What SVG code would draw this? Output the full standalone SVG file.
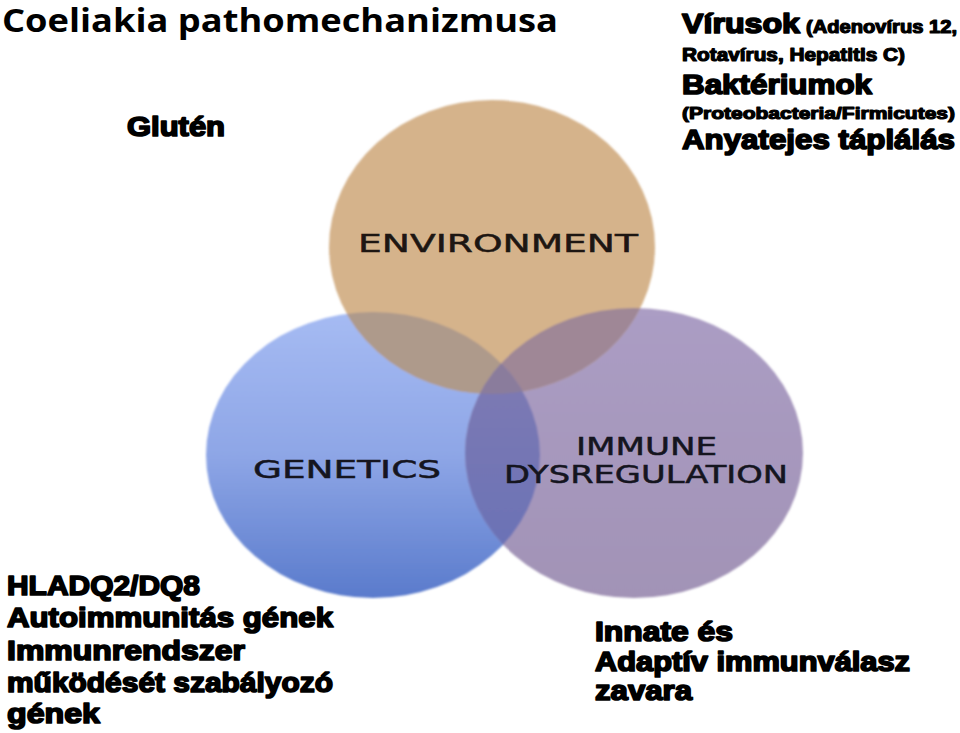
<svg xmlns="http://www.w3.org/2000/svg" width="960" height="733" viewBox="0 0 960 733">
<style>
.blk{font-family:"Liberation Sans",Arial,sans-serif;font-weight:bold;fill:#000;stroke:#000;stroke-width:1.7;stroke-linejoin:round}
.sm{stroke-width:1.2}
.lbl{font-family:"DejaVu Sans","Liberation Sans",sans-serif;font-weight:normal;font-size:25px;fill:#15151f;stroke:#15151f;stroke-width:0.5}
.ttl{font-family:"Open Sans","Liberation Sans",sans-serif;font-weight:700;font-size:32px;fill:#000}
</style>
<defs>
<linearGradient id="gGen" x1="0" y1="312" x2="0" y2="598" gradientUnits="userSpaceOnUse">
<stop offset="0" stop-color="#a6bbf3"/><stop offset="0.5" stop-color="#8ea6e6"/><stop offset="1" stop-color="#5a7bcc"/>
</linearGradient>
<linearGradient id="gImm" x1="0" y1="308" x2="0" y2="598" gradientUnits="userSpaceOnUse">
<stop offset="0" stop-color="#ab9dc4"/><stop offset="1" stop-color="#a293b6"/>
</linearGradient>
<linearGradient id="gGI" x1="0" y1="360" x2="0" y2="545" gradientUnits="userSpaceOnUse">
<stop offset="0" stop-color="#7f7bb3"/><stop offset="1" stop-color="#6b72b6"/>
</linearGradient>
<clipPath id="cGen"><ellipse cx="373" cy="455" rx="167" ry="143"/></clipPath>
<clipPath id="cImm"><ellipse cx="634" cy="453" rx="169" ry="145"/></clipPath>
<filter id="soft" x="-5%" y="-5%" width="110%" height="110%"><feGaussianBlur stdDeviation="1.2"/></filter>
</defs>

<g id="title"><text class="ttl" x="2" y="32" textLength="556" lengthAdjust="spacingAndGlyphs">Coeliakia pathomechanizmusa</text></g>

<g id="venn" filter="url(#soft)">
<g id="genetics-circle"><ellipse cx="373" cy="455" rx="167" ry="143" fill="url(#gGen)"/></g>
<g id="immune-circle"><ellipse cx="634" cy="453" rx="169" ry="145" fill="url(#gImm)"/></g>
<g id="environment-circle"><ellipse cx="492" cy="247" rx="163" ry="147" fill="#d5b38b"/></g>
<g clip-path="url(#cGen)"><ellipse cx="492" cy="247" rx="163" ry="147" fill="#ae9a8b"/></g>
<g clip-path="url(#cImm)"><ellipse cx="492" cy="247" rx="163" ry="147" fill="#9f8796"/></g>
<g clip-path="url(#cImm)"><ellipse cx="373" cy="455" rx="167" ry="143" fill="url(#gGI)"/></g>
<g clip-path="url(#cImm)"><g clip-path="url(#cGen)"><ellipse cx="492" cy="247" rx="163" ry="147" fill="#8a7c9c"/></g></g>
</g>

<g id="environment">
<text class="lbl" x="358" y="252" textLength="280" lengthAdjust="spacingAndGlyphs" style="fill:#1d1612;stroke:#1d1612">ENVIRONMENT</text>
</g>
<g id="genetics">
<text class="lbl" x="253" y="478" textLength="188" lengthAdjust="spacingAndGlyphs">GENETICS</text>
</g>
<g id="immune">
<text class="lbl" x="576" y="455" textLength="141" lengthAdjust="spacingAndGlyphs">IMMUNE</text>
<text class="lbl" x="504" y="483" textLength="284" lengthAdjust="spacingAndGlyphs">DYSREGULATION</text>
</g>

<g id="gluten"><text class="blk" x="127" y="136" font-size="27" textLength="98" lengthAdjust="spacingAndGlyphs">Glutén</text></g>

<g id="environment-factors">
<text class="blk" x="682" y="33" font-size="28" textLength="118" lengthAdjust="spacingAndGlyphs">Vírusok</text>
<text class="blk sm" x="806" y="33" font-size="18" textLength="151" lengthAdjust="spacingAndGlyphs">(Adenovírus 12,</text>
<text class="blk sm" x="682" y="61" font-size="18" textLength="223" lengthAdjust="spacingAndGlyphs">Rotavírus, Hepatitis C)</text>
<text class="blk" x="682" y="94" font-size="28" textLength="190" lengthAdjust="spacingAndGlyphs">Baktériumok</text>
<text class="blk sm" x="682" y="119" font-size="17" textLength="273" lengthAdjust="spacingAndGlyphs">(Proteobacteria/Firmicutes)</text>
<text class="blk" x="682" y="149" font-size="28" textLength="273" lengthAdjust="spacingAndGlyphs">Anyatejes táplálás</text>
</g>

<g id="genetics-factors">
<text class="blk" x="7" y="595" font-size="28" textLength="193" lengthAdjust="spacingAndGlyphs">HLADQ2/DQ8</text>
<text class="blk" x="7" y="627" font-size="28" textLength="326" lengthAdjust="spacingAndGlyphs">Autoimmunitás gének</text>
<text class="blk" x="7" y="660" font-size="28" textLength="238" lengthAdjust="spacingAndGlyphs">Immunrendszer</text>
<text class="blk" x="7" y="692" font-size="28" textLength="326" lengthAdjust="spacingAndGlyphs">működését szabályozó</text>
<text class="blk" x="7" y="723" font-size="28" textLength="93" lengthAdjust="spacingAndGlyphs">gének</text>
</g>

<g id="immune-factors">
<text class="blk" x="595" y="641" font-size="27" textLength="138" lengthAdjust="spacingAndGlyphs">Innate és</text>
<text class="blk" x="595" y="671" font-size="27" textLength="315" lengthAdjust="spacingAndGlyphs">Adaptív immunválasz</text>
<text class="blk" x="595" y="700" font-size="27" textLength="97" lengthAdjust="spacingAndGlyphs">zavara</text>
</g>
</svg>
